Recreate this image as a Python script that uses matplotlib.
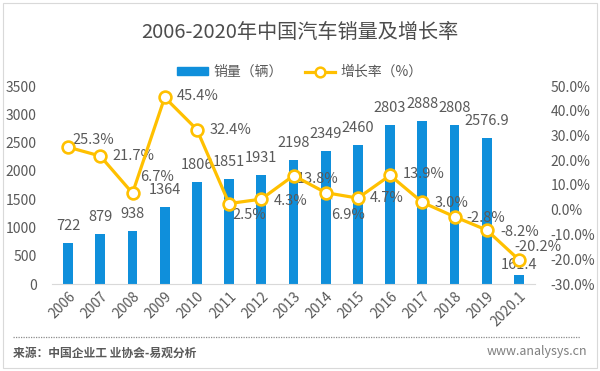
import matplotlib
matplotlib.use('Agg')
from matplotlib import pyplot
from matplotlib.lines import Line2D
from matplotlib.patches import Rectangle

pyplot.rcParams['font.family'] = ['Noto Sans CJK SC', 'DejaVu Sans']

years = ['2006', '2007', '2008', '2009', '2010', '2011', '2012', '2013',
         '2014', '2015', '2016', '2017', '2018', '2019', '2020.1']
sales = [722, 879, 938, 1364, 1806, 1851, 1931, 2198, 2349, 2460, 2803, 2888, 2808, 2576.9, 161.4]
sales_labels = ['722', '879', '938', '1364', '1806', '1851', '1931', '2198', '2349', '2460',
                '2803', '2888', '2808', '2576.9', '161.4']
growth = [25.3, 21.7, 6.7, 45.4, 32.4, 2.5, 4.3, 13.8, 6.9, 4.7, 13.9, 3.0, -2.8, -8.2, -20.2]
left_ticks = [0, 500, 1000, 1500, 2000, 2500, 3000, 3500]
right_ticks = [-30, -20, -10, 0, 10, 20, 30, 40, 50]

# label offsets in pixels (dx, dy) for the growth labels
growth_offsets = [(25, 7), (33, 0), (25, 16), (33, 1), (34, 0), (20, -11), (29, -2), (24, -3),
                  (22, -22), (29, 0), (34, 1), (29, -1), (31, -1), (33, -2), (19, 13)]
leader_lines = {2, 8}

bar_color = '#0f8fdb'
line_color = '#ffc000'
text_color = '#595959'

fig = pyplot.figure(figsize=(6, 3.71), dpi=100)
ax = fig.add_axes([52 / 600, 1 - 284 / 371, (535 - 52) / 600, (284 - 86) / 371])
ax2 = ax.twinx()

xs = list(range(len(years)))
ax.bar(xs, sales, width=0.31, color=bar_color, zorder=2)
ax.set_ylim(0, 3500)
ax.set_xlim(-0.5, len(years) - 0.5)
ax.set_yticks(left_ticks)
ax.set_xticks(xs)
ax.set_xticklabels(years, rotation=45, ha='right', va='top', rotation_mode='anchor')

for i, (v, lab) in enumerate(zip(sales, sales_labels)):
    dy = 10 if i == len(sales) - 1 else 17
    ax.annotate(lab, (i, v), xytext=(0, dy), textcoords='offset pixels',
                ha='center', va='center', fontsize=10.5, color=text_color, zorder=5)

ax2.plot(xs, growth, color=line_color, linewidth=2.3, marker='o', markersize=8.5,
         markerfacecolor='white', markeredgecolor=line_color, markeredgewidth=1.9, zorder=4)
ax2.set_ylim(-30, 50)
ax2.set_yticks(right_ticks)
ax2.set_yticklabels([f'{t:.1f}%' for t in right_ticks])

for i, (g, (dx, dy)) in enumerate(zip(growth, growth_offsets)):
    if i in leader_lines:
        ax2.annotate(f'{g:.1f}%', (i, g), xytext=(dx, dy), textcoords='offset pixels',
                     ha='center', va='center', fontsize=10.5, color=text_color,
                     arrowprops=dict(arrowstyle='-', color='#a6a6a6', lw=0.8, shrinkA=6, shrinkB=4))
    else:
        ax2.annotate(f'{g:.1f}%', (i, g), xytext=(dx, dy), textcoords='offset pixels',
                     ha='center', va='center', fontsize=10.5, color=text_color)

for a in (ax, ax2):
    for side in ('top', 'left', 'right', 'bottom'):
        a.spines[side].set_visible(False)
    a.tick_params(length=0, labelsize=10, labelcolor=text_color)
ax.spines['bottom'].set_visible(True)
ax.spines['bottom'].set_color('#d9d9d9')
ax.tick_params(axis='y', pad=11)
ax.tick_params(axis='x', pad=4)
ax2.tick_params(axis='y', pad=11)

fig.text(0.5, 1 - 32 / 371, '2006-2020年中国汽车销量及增长率', ha='center', va='center',
         fontsize=14.5, color='#4d4d4d', fontweight='medium')

handles = [Rectangle((0, 0), 1, 1, color=bar_color),
           Line2D([], [], color=line_color, linewidth=2.3, marker='o', markersize=7,
                  markerfacecolor='white', markeredgecolor=line_color, markeredgewidth=1.8)]
fig.legend(handles, ['销量（辆）', '增长率（%）'], loc='center', bbox_to_anchor=(0.5, 1 - 72 / 371),
           ncol=2, frameon=False, fontsize=10, labelcolor=text_color, handlelength=2.2,
           handleheight=0.45, columnspacing=1.6, handletextpad=0.4)

fig.add_artist(Line2D([13 / 600, 580 / 600], [1 - 337 / 371] * 2, color='#8c8c8c',
                      linestyle=(0, (1, 1)), linewidth=0.9))
fig.text(13 / 600, 1 - 353 / 371, '来源：中国企业工 业协会-易观分析', ha='left', va='center',
         fontsize=8.5, color=text_color, fontweight='bold')
fig.text(587 / 600, 1 - 352 / 371, 'www.analysys.cn', ha='right', va='center',
         fontsize=9, color='#7f7f7f')
fig.add_artist(Rectangle((3 / 600, 3 / 371), 594 / 600, 365 / 371, fill=False,
                         edgecolor='#d9d9d9', linewidth=0.8, transform=fig.transFigure))

fig.savefig('out.png', dpi=100)
